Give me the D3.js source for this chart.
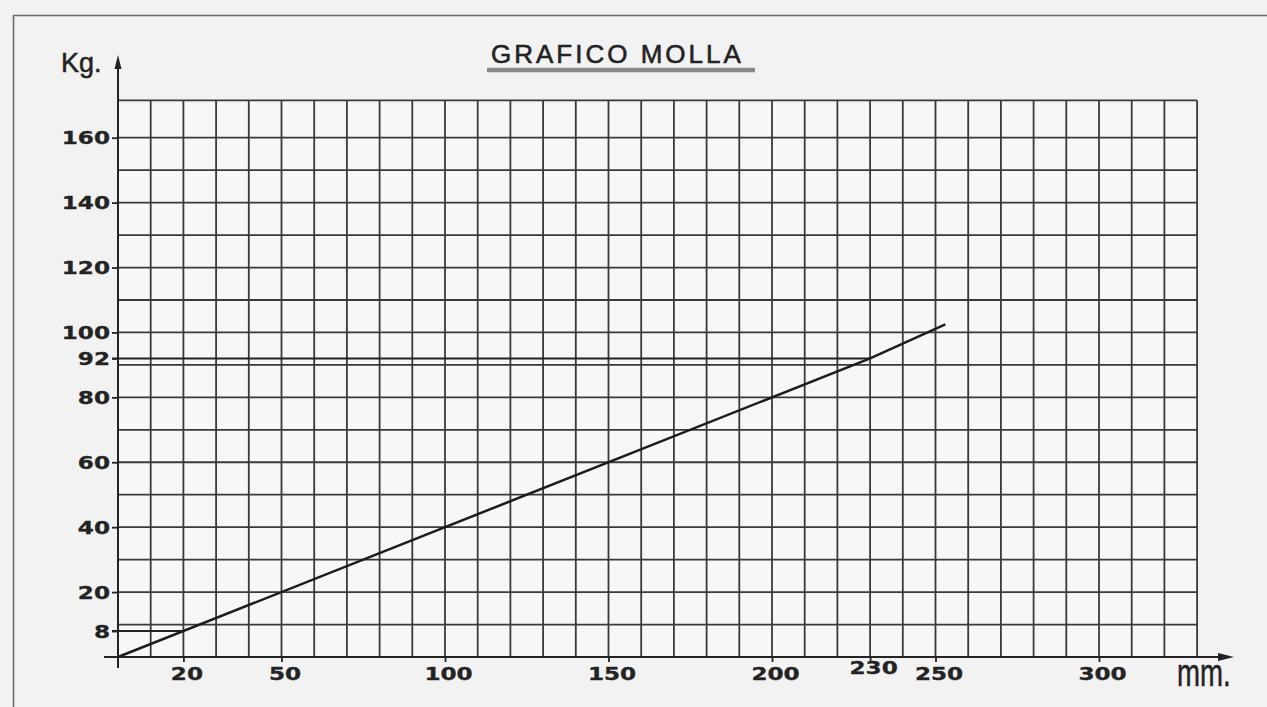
<!DOCTYPE html>
<html><head><meta charset="utf-8">
<script src="https://cdn.jsdelivr.net/npm/d3@7"></script>
<style>
html,body{margin:0;padding:0;background:#f3f3f3;}
svg{display:block;}
</style></head><body>
<svg id="c" width="1267" height="707"></svg>
<script>
const title = "GRAFICO MOLLA";
const xUnit = "mm.";
const yUnit = "Kg.";
const xTickLabels = [20, 50, 100, 150, 200, 230, 250, 300];
const yTickLabels = [8, 20, 40, 60, 80, 92, 100, 120, 140, 160];
const springMm = [0, 230, 253];
const springKg = [0, 92, 102.5];
const refMm = [20, 230];
const refKg = [8, 92];
const gridMaxMm = 330;
const gridTopKg = 171.5;
const gridStepMm = 10;
const gridStepKg = 10;

const svg = d3.select("#c");
const W = 1267, H = 707;
const x = d3.scaleLinear().domain([0, 300]).range([118, 1099]);
const y = d3.scaleLinear().domain([0, 160]).range([657, 137.7]);
const ink = "#232323";
const gridCol = "#3a3a3a";
const sx = 1.36;

svg.append("rect").attr("width", W).attr("height", H).attr("fill", "#f2f2f2");
svg.append("path").attr("d", "M13.5," + H + " V15.5 H" + W)
  .attr("fill", "none").attr("stroke", "#6a6a6a").attr("stroke-width", 1.6);

svg.append("rect")
  .attr("x", x(0)).attr("y", y(gridTopKg))
  .attr("width", x(gridMaxMm) - x(0)).attr("height", y(0) - y(gridTopKg))
  .attr("fill", "#f7f7f7");

// grid
const gx = d3.range(gridStepMm, gridMaxMm + 0.1, gridStepMm);
const gy = d3.range(gridStepKg, 160 + 0.1, gridStepKg).concat([gridTopKg]);
const grid = svg.append("g").attr("stroke", gridCol).attr("stroke-width", 1.8);
grid.selectAll("line.v").data(gx).join("line").attr("class", "v")
  .attr("x1", d => x(d)).attr("x2", d => x(d))
  .attr("y1", y(0)).attr("y2", y(gridTopKg));
grid.selectAll("line.h").data(gy).join("line").attr("class", "h")
  .attr("x1", x(0)).attr("x2", x(gridMaxMm))
  .attr("y1", d => y(d)).attr("y2", d => y(d));

// x axis ticks & labels
const xAxis = d3.axisBottom(x).tickValues(xTickLabels).tickSize(5).tickFormat(d3.format("d"));
const gxA = svg.append("g").attr("transform", "translate(0," + y(0) + ")").call(xAxis);
gxA.select(".domain").remove();
gxA.selectAll(".tick line").attr("stroke", ink).attr("stroke-width", 1.8);
gxA.selectAll(".tick text")
  .attr("fill", ink).attr("stroke", ink).attr("stroke-width", 0.3)
  .attr("font-family", "DejaVu Sans").attr("font-weight", "bold").attr("font-size", 17)
  .attr("dy", 0)
  .attr("x", 3 / sx)
  .attr("y", d => d === 230 ? 17 : 23)
  .attr("transform", `scale(${sx},1)`);

// y axis ticks & labels
const yAxis = d3.axisLeft(y).tickValues(yTickLabels).tickSize(6).tickFormat(d3.format("d"));
const gyA = svg.append("g").attr("transform", "translate(" + x(0) + ",0)").call(yAxis);
gyA.select(".domain").remove();
gyA.selectAll(".tick line").attr("stroke", ink).attr("stroke-width", 1.8);
gyA.selectAll(".tick text")
  .attr("fill", ink).attr("stroke", ink).attr("stroke-width", 0.3)
  .attr("font-family", "DejaVu Sans").attr("font-weight", "bold").attr("font-size", 17)
  .attr("x", -8 / sx).attr("dy", "0.36em")
  .attr("transform", `scale(${sx},1)`);

// reference lines
svg.append("g").selectAll("line").data(refMm).join("line")
  .attr("x1", x(0) - 6).attr("x2", (d) => x(d))
  .attr("y1", (d, i) => y(refKg[i])).attr("y2", (d, i) => y(refKg[i]))
  .attr("stroke", ink).attr("stroke-width", 2);

// axes lines with arrows
svg.append("line").attr("x1", x(0)).attr("x2", x(0)).attr("y1", y(0) + 11).attr("y2", 64)
  .attr("stroke", ink).attr("stroke-width", 2);
svg.append("path").attr("d", `M${x(0)},55 L${x(0) - 3.5},69 L${x(0) + 3.5},69 Z`).attr("fill", ink);
svg.append("line").attr("x1", x(0) - 14).attr("x2", 1222).attr("y1", y(0)).attr("y2", y(0))
  .attr("stroke", ink).attr("stroke-width", 2);
svg.append("path").attr("d", `M1234,${y(0)} L1218,${y(0) - 4} L1218,${y(0) + 4} Z`).attr("fill", ink);

// spring line
const pts = springMm.map((m, i) => [m, springKg[i]]);
svg.append("path").datum(pts)
  .attr("d", d3.line().x(d => x(d[0])).y(d => y(d[1])))
  .attr("fill", "none").attr("stroke", "#1c1c1c").attr("stroke-width", 2.5);

// units
svg.append("text").attr("x", 61).attr("y", 72).text(yUnit)
  .attr("font-family", "Liberation Sans").attr("font-size", 27)
  .attr("fill", ink).attr("stroke", ink).attr("stroke-width", 0.5);
svg.append("text").text(xUnit)
  .attr("transform", "translate(1177,686) scale(0.92,1.3)")
  .attr("font-family", "Liberation Sans").attr("font-size", 30)
  .attr("fill", ink).attr("stroke", ink).attr("stroke-width", 0.4);

// title
svg.append("text").attr("x", 491).attr("y", 63).text(title)
  .attr("font-family", "Liberation Sans").attr("font-size", 26)
  .attr("letter-spacing", "3px").attr("fill", ink).attr("stroke", ink).attr("stroke-width", 0.6);
svg.append("line").attr("x1", 487).attr("x2", 755).attr("y1", 70).attr("y2", 70)
  .attr("stroke", "#8a8a8a").attr("stroke-width", 4.5);
</script>
</body></html>
